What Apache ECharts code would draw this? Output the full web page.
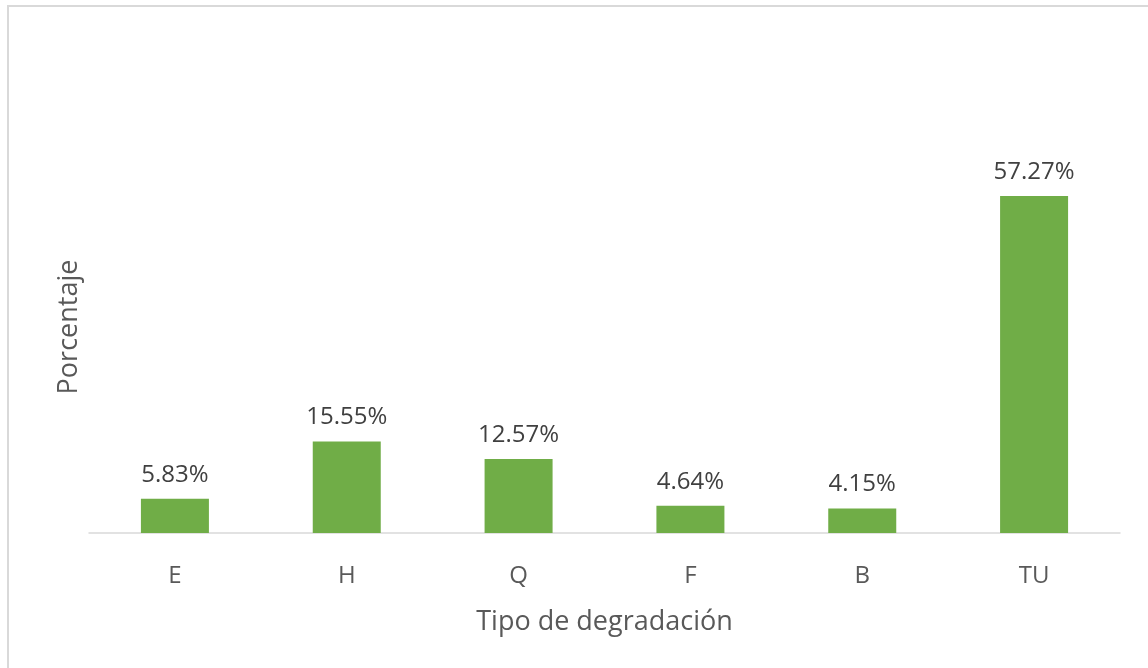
<!DOCTYPE html>
<html><head><meta charset="utf-8">
<script src="https://cdn.jsdelivr.net/npm/echarts@6/dist/echarts.min.js"></script>
<style>html,body{margin:0;padding:0;background:#fff}#c{width:1148px;height:668px}</style>
</head><body><div id="c"></div>
<script>
const categories = ['E', 'H', 'Q', 'F', 'B', 'TU'];
const values = [5.83, 15.55, 12.57, 4.64, 4.15, 57.27];
const xTitle = 'Tipo de degradación';
const yTitle = 'Porcentaje';

const chart = echarts.init(document.getElementById('c'), null, {renderer: 'canvas'});
const font = '"Open Sans", "Noto Sans", sans-serif';
chart.setOption({
  animation: false,
  backgroundColor: '#fff',
  graphic: [{
    type: 'rect', shape: {x: 8, y: 6, width: 1300, height: 800},
    style: {fill: 'none', stroke: '#d9d9d9', lineWidth: 2}, silent: true
  }],
  grid: {left: 89, right: 28, top: 121, bottom: 135},
  xAxis: {
    type: 'category', data: categories,
    axisLine: {lineStyle: {color: '#d9d9d9', width: 1.5}},
    axisTick: {show: false},
    axisLabel: {color: '#595959', fontSize: 24, fontFamily: font, margin: 31},
    name: xTitle, nameLocation: 'middle', nameGap: 76,
    nameTextStyle: {color: '#595959', fontSize: 27, fontFamily: font}
  },
  yAxis: {
    type: 'value', min: 0, max: 70,
    show: true, axisLine: {show: false}, axisTick: {show: false},
    axisLabel: {show: false}, splitLine: {show: false},
    name: yTitle, nameLocation: 'middle', nameGap: 6, nameRotate: 90,
    nameTextStyle: {color: '#595959', fontSize: 27, fontFamily: font}
  },
  series: [{
    type: 'bar', data: values, barWidth: 68,
    itemStyle: {color: '#70ad47'},
    label: {
      show: true, position: 'top', distance: 12,
      color: '#404040', fontSize: 24, fontFamily: font,
      formatter: p => p.value.toFixed(2) + '%'
    }
  }]
});
</script></body></html>
